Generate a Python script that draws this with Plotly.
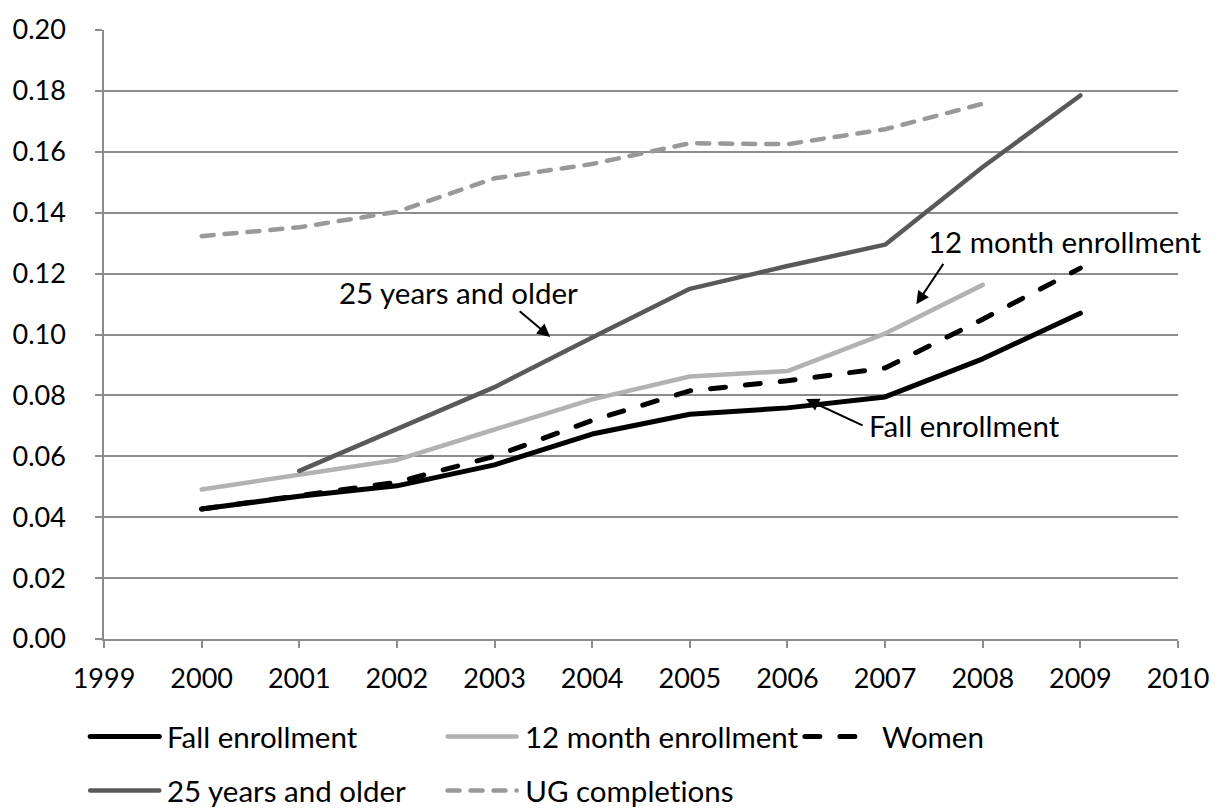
import plotly.graph_objects as go

# Share of students, by year
years = [2000, 2001, 2002, 2003, 2004, 2005, 2006, 2007, 2008, 2009]
fall_enrollment = [0.0427, 0.0469, 0.0503, 0.0572, 0.0673, 0.0738, 0.0759, 0.0795, 0.0920, 0.1070]
twelve_month = [0.0491, 0.0540, 0.0588, 0.0688, 0.0787, 0.0862, 0.0880, 0.1003, 0.1163]
women = [0.0427, 0.0470, 0.0515, 0.0600, 0.0718, 0.0815, 0.0848, 0.0890, 0.1050, 0.1218]
years_25_plus = [2001, 2002, 2003, 2004, 2005, 2006, 2007, 2008, 2009]
age_25_plus = [0.0552, 0.0690, 0.0827, 0.0990, 0.1150, 0.1225, 0.1295, 0.1550, 0.1785]
ug_completions = [0.1323, 0.1352, 0.1403, 0.1513, 0.1560, 0.1628, 0.1625, 0.1674, 0.1758]

y_ticks = [0.00, 0.02, 0.04, 0.06, 0.08, 0.10, 0.12, 0.14, 0.16, 0.18, 0.20]
x_ticks = list(range(1999, 2011))

FONT = "Lato"
TICK_FS = 27
TEXT_FS = 29.5
GRID = "#8c8c8c"

series = [
    dict(name="Fall enrollment", x=years, y=fall_enrollment, color="#000000", width=5, dash="solid"),
    dict(name="12 month enrollment", x=years[:9], y=twelve_month, color="#b2b2b2", width=4.5, dash="solid"),
    dict(name="Women", x=years, y=women, color="#000000", width=5, dash="15px,20px"),
    dict(name="25 years and older", x=years_25_plus, y=age_25_plus, color="#595959", width=4.5, dash="solid"),
    dict(name="UG completions", x=years[:9], y=ug_completions, color="#999999", width=4.5, dash="12px,11px"),
]

fig = go.Figure()
for s in series:
    fig.add_trace(go.Scatter(
        x=s["x"], y=s["y"], name=s["name"], mode="lines",
        line=dict(color=s["color"], width=s["width"], dash=s["dash"]),
        showlegend=False,
    ))

# Plot area geometry in pixels (for the hand-built legend below)
W, H = 1221, 810
ML, MR, MT, MB = 97, 36, 20, 171
PW, PH = W - ML - MR, H - MT - MB


def px_to_paper(px, py):
    return (px - ML) / PW, (H - MB - py) / PH


# Legend: a grid of line samples followed by their labels
legend_slots = [(83, 738), (445, 738), (807, 738), (83, 793), (445, 793)]
shapes = []
annotations = []
for s, (lx, ly) in zip(series, legend_slots):
    x0, y0 = px_to_paper(lx, ly)
    x1, _ = px_to_paper(lx + 70, ly)
    shapes.append(dict(type="line", xref="paper", yref="paper", x0=x0, x1=x1, y0=y0, y1=y0,
                       line=dict(color=s["color"], width=s["width"], dash=s["dash"])))
    tx, _ = px_to_paper(lx + 76, ly)
    annotations.append(dict(xref="paper", yref="paper", x=tx, y=y0, text=s["name"],
                            showarrow=False, xanchor="left", yanchor="middle",
                            font=dict(family=FONT, size=TEXT_FS, color="#000000")))

# Callout labels and their arrows
callouts = [
    dict(text="25 years and older", tx=2002.63, ty=0.1137, hx=2003.57, hy=0.0992, ax=-32, ay=-27),
    dict(text="12 month enrollment", tx=2008.84, ty=0.1305, hx=2007.32, hy=0.1099, ax=28, ay=-42),
    dict(text="Fall enrollment", tx=2007.81, ty=0.0701, hx=2006.19, hy=0.0788, ax=58, ay=27),
]
for c in callouts:
    annotations.append(dict(x=c["tx"], y=c["ty"], xref="x", yref="y", text=c["text"], showarrow=False,
                            font=dict(family=FONT, size=TEXT_FS, color="#000000")))
    annotations.append(dict(x=c["hx"], y=c["hy"], xref="x", yref="y", text="", showarrow=True,
                            ax=c["ax"], ay=c["ay"], arrowhead=2, arrowsize=1.3, arrowwidth=2,
                            arrowcolor="#000000"))

fig.update_layout(
    width=W, height=H,
    margin=dict(l=ML, r=MR, t=MT, b=MB, pad=0),
    paper_bgcolor="#ffffff", plot_bgcolor="#ffffff",
    font=dict(family=FONT, size=TICK_FS, color="#000000"),
    shapes=shapes, annotations=annotations,
    showlegend=False,
)
fig.update_xaxes(
    range=[1999, 2010], tickmode="array", tickvals=x_ticks, ticktext=[str(v) for v in x_ticks],
    showgrid=False, zeroline=False, showline=True, linecolor=GRID, linewidth=1.5,
    ticks="outside", ticklen=7, tickwidth=1.5, tickcolor=GRID, ticklabelstandoff=8,
    tickfont=dict(family=FONT, size=TICK_FS, color="#000000"),
)
fig.update_yaxes(
    range=[0, 0.2], tickmode="array", tickvals=y_ticks, ticktext=[f"{v:.2f}" for v in y_ticks],
    showgrid=True, gridcolor=GRID, gridwidth=1.5, zeroline=False,
    showline=True, linecolor=GRID, linewidth=1.5,
    ticks="outside", ticklen=7, tickwidth=1.5, tickcolor=GRID, ticklabelstandoff=24,
    tickfont=dict(family=FONT, size=TICK_FS, color="#000000"),
)

# Rounded line ends and plain (non-ligature) lettering
post_js = """
document.querySelectorAll('.js-line, .shapelayer path').forEach(function (p) {
  p.style.strokeLinecap = 'round';
  p.style.strokeLinejoin = 'round';
});
document.querySelectorAll('text').forEach(function (t) {
  t.style.fontVariantLigatures = 'none';
  t.style.fontFeatureSettings = '"liga" 0, "clig" 0';
});
"""
fig.write_html("out.html", post_script=post_js)
